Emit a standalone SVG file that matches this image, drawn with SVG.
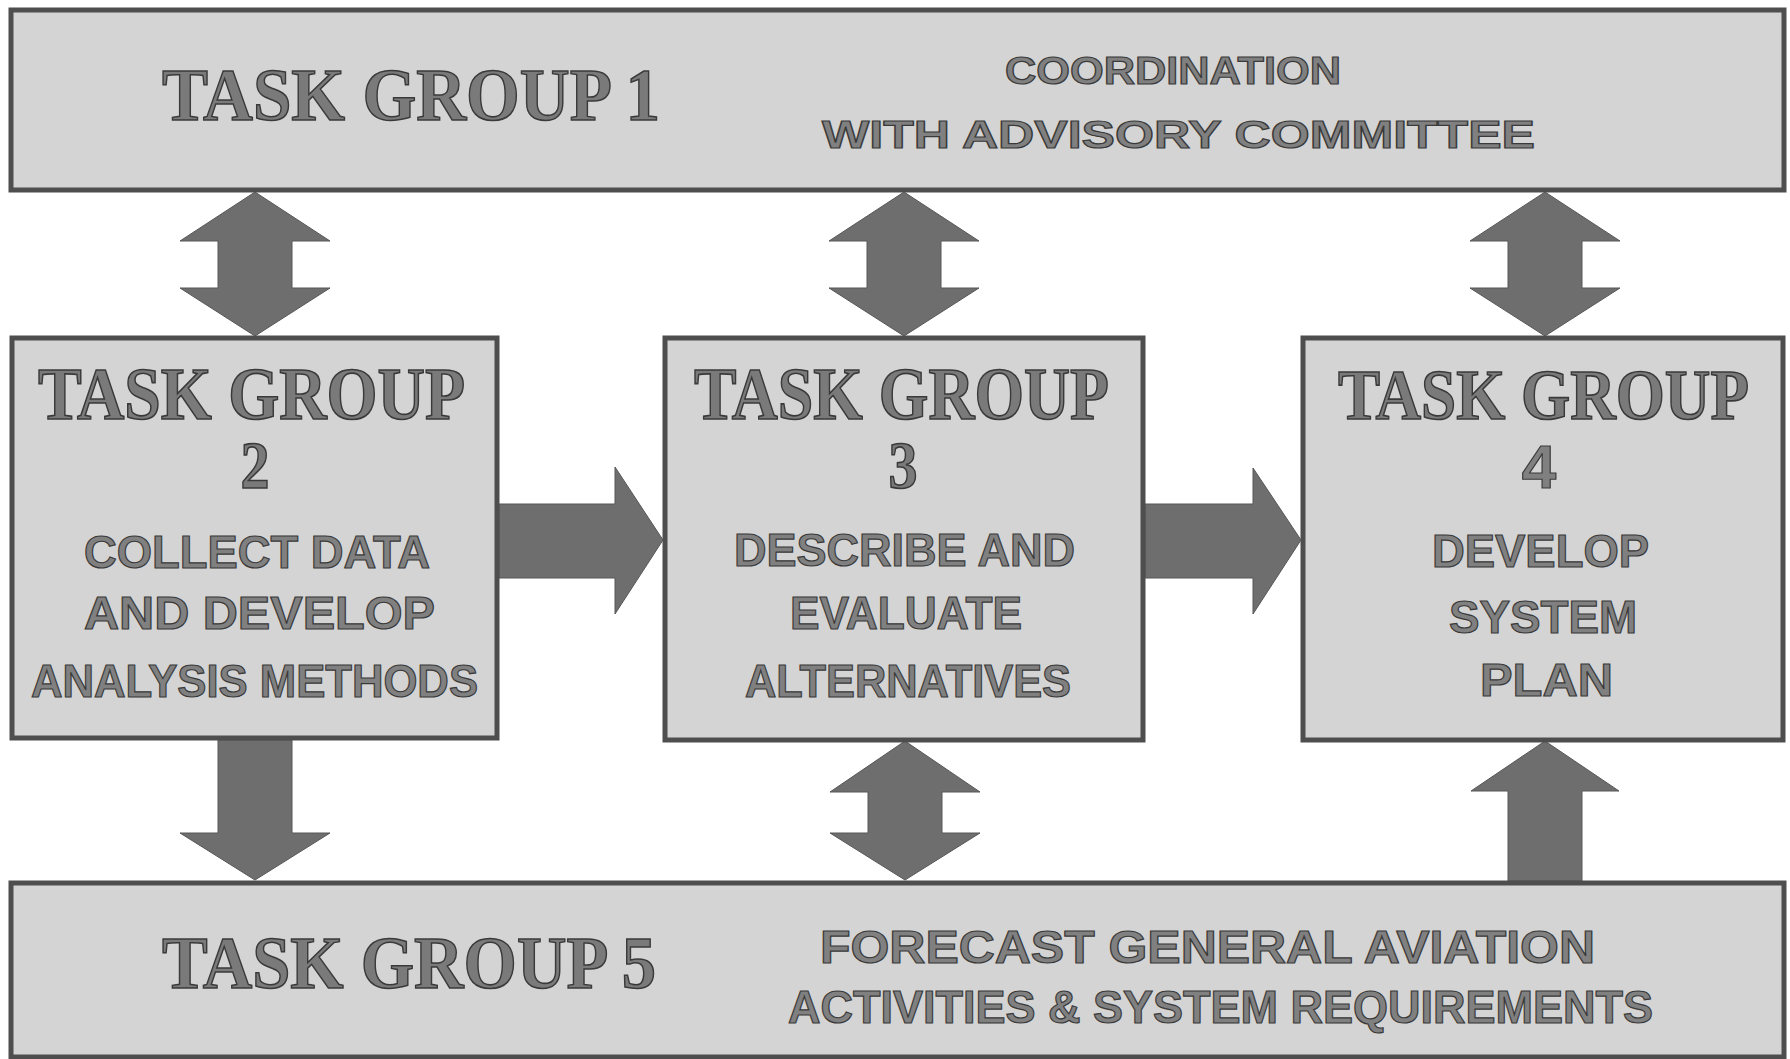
<svg xmlns="http://www.w3.org/2000/svg" width="1790" height="1059" viewBox="0 0 1790 1059">
  <style>
    .box { fill: #d4d4d4; stroke: #4e4e4e; stroke-width: 5; }
    .arrow { fill: #6e6e6e; stroke: #575757; stroke-width: 1; }
    .serif { font-family: "Liberation Serif", "DejaVu Serif", serif; font-weight: bold; fill: #7a7a7a; stroke: #3a3a3a; stroke-width: 1.4; }
    .sans { font-family: "Liberation Sans", "DejaVu Sans", sans-serif; font-weight: bold; fill: #808080; stroke: #3a3a3a; stroke-width: 1.2; }
  </style>
  <rect width="1790" height="1059" fill="#ffffff"/>

  <g id="connectors">
    <polygon class="arrow" points="255,192 330,241 292,241 292,288 330,288 255,336 180,288 218,288 218,241 180,241"/>
    <polygon class="arrow" points="904,192 979,241 941,241 941,288 979,288 904,336 829,288 867,288 867,241 829,241"/>
    <polygon class="arrow" points="1545,192 1620,241 1582,241 1582,288 1620,288 1545,336 1470,288 1508,288 1508,241 1470,241"/>
    <polygon class="arrow" points="499,504 615,504 615,467 663,540 615,614 615,578 499,578"/>
    <polygon class="arrow" points="1145,504 1253,504 1253,468 1301,540 1253,614 1253,578 1145,578"/>
    <polygon class="arrow" points="218,740 292,740 292,833 330,833 255,880 180,833 218,833"/>
    <polygon class="arrow" points="905,741 980,792 942,792 942,833 980,833 905,880 830,833 868,833 868,792 830,792"/>
    <polygon class="arrow" points="1545,741 1619,791 1582,791 1582,881 1508,881 1508,791 1471,791"/>
  </g>

  <g id="task-group-1">
    <rect class="box" x="11" y="10" width="1773" height="180"/>
    <g transform="translate(162,120) scale(1,1.1)">
      <text class="serif" x="0" y="0" font-size="68" textLength="498" lengthAdjust="spacingAndGlyphs">TASK GROUP 1</text>
    </g>
    <text class="sans" x="1005" y="84" font-size="38" textLength="336" lengthAdjust="spacingAndGlyphs">COORDINATION</text>
    <text class="sans" x="822" y="148" font-size="39" textLength="713" lengthAdjust="spacingAndGlyphs">WITH ADVISORY COMMITTEE</text>
  </g>

  <g id="task-group-2">
    <rect class="box" x="12" y="338" width="485" height="400"/>
    <g transform="translate(38,419) scale(1,1.17)">
      <text class="serif" x="0" y="0" font-size="63" textLength="427" lengthAdjust="spacingAndGlyphs">TASK GROUP</text>
    </g>
    <g transform="translate(255,488) scale(1,1.17)">
      <text class="serif" x="0" y="0" font-size="58" text-anchor="middle">2</text>
    </g>
    <text class="sans" x="84" y="568" font-size="46" textLength="346" lengthAdjust="spacingAndGlyphs">COLLECT DATA</text>
    <text class="sans" x="84" y="629" font-size="46" textLength="351" lengthAdjust="spacingAndGlyphs">AND DEVELOP</text>
    <text class="sans" x="31" y="697" font-size="46" textLength="447" lengthAdjust="spacingAndGlyphs">ANALYSIS METHODS</text>
  </g>

  <g id="task-group-3">
    <rect class="box" x="665" y="338" width="478" height="402"/>
    <g transform="translate(694,419) scale(1,1.17)">
      <text class="serif" x="0" y="0" font-size="63" textLength="415" lengthAdjust="spacingAndGlyphs">TASK GROUP</text>
    </g>
    <g transform="translate(903,488) scale(1,1.17)">
      <text class="serif" x="0" y="0" font-size="58" text-anchor="middle">3</text>
    </g>
    <text class="sans" x="734" y="566" font-size="46" textLength="341" lengthAdjust="spacingAndGlyphs">DESCRIBE AND</text>
    <text class="sans" x="790" y="629" font-size="46" textLength="232" lengthAdjust="spacingAndGlyphs">EVALUATE</text>
    <text class="sans" x="745" y="697" font-size="46" textLength="326" lengthAdjust="spacingAndGlyphs">ALTERNATIVES</text>
  </g>

  <g id="task-group-4">
    <rect class="box" x="1303" y="338" width="480" height="402"/>
    <g transform="translate(1338,419) scale(1,1.17)">
      <text class="serif" x="0" y="0" font-size="62" textLength="411" lengthAdjust="spacingAndGlyphs">TASK GROUP</text>
    </g>
    <text class="sans" x="1539" y="488" font-size="62" text-anchor="middle">4</text>
    <text class="sans" x="1432" y="567" font-size="46" textLength="217" lengthAdjust="spacingAndGlyphs">DEVELOP</text>
    <text class="sans" x="1449" y="633" font-size="46" textLength="188" lengthAdjust="spacingAndGlyphs">SYSTEM</text>
    <text class="sans" x="1480" y="696" font-size="46" textLength="133" lengthAdjust="spacingAndGlyphs">PLAN</text>
  </g>

  <g id="task-group-5">
    <rect class="box" x="11" y="883" width="1773" height="174"/>
    <g transform="translate(162,988) scale(1,1.1)">
      <text class="serif" x="0" y="0" font-size="67" textLength="494" lengthAdjust="spacingAndGlyphs">TASK GROUP 5</text>
    </g>
    <text class="sans" x="820" y="963" font-size="46" textLength="775" lengthAdjust="spacingAndGlyphs">FORECAST GENERAL AVIATION</text>
    <text class="sans" x="788" y="1023" font-size="46" textLength="865" lengthAdjust="spacingAndGlyphs">ACTIVITIES &amp; SYSTEM REQUIREMENTS</text>
  </g>
</svg>
